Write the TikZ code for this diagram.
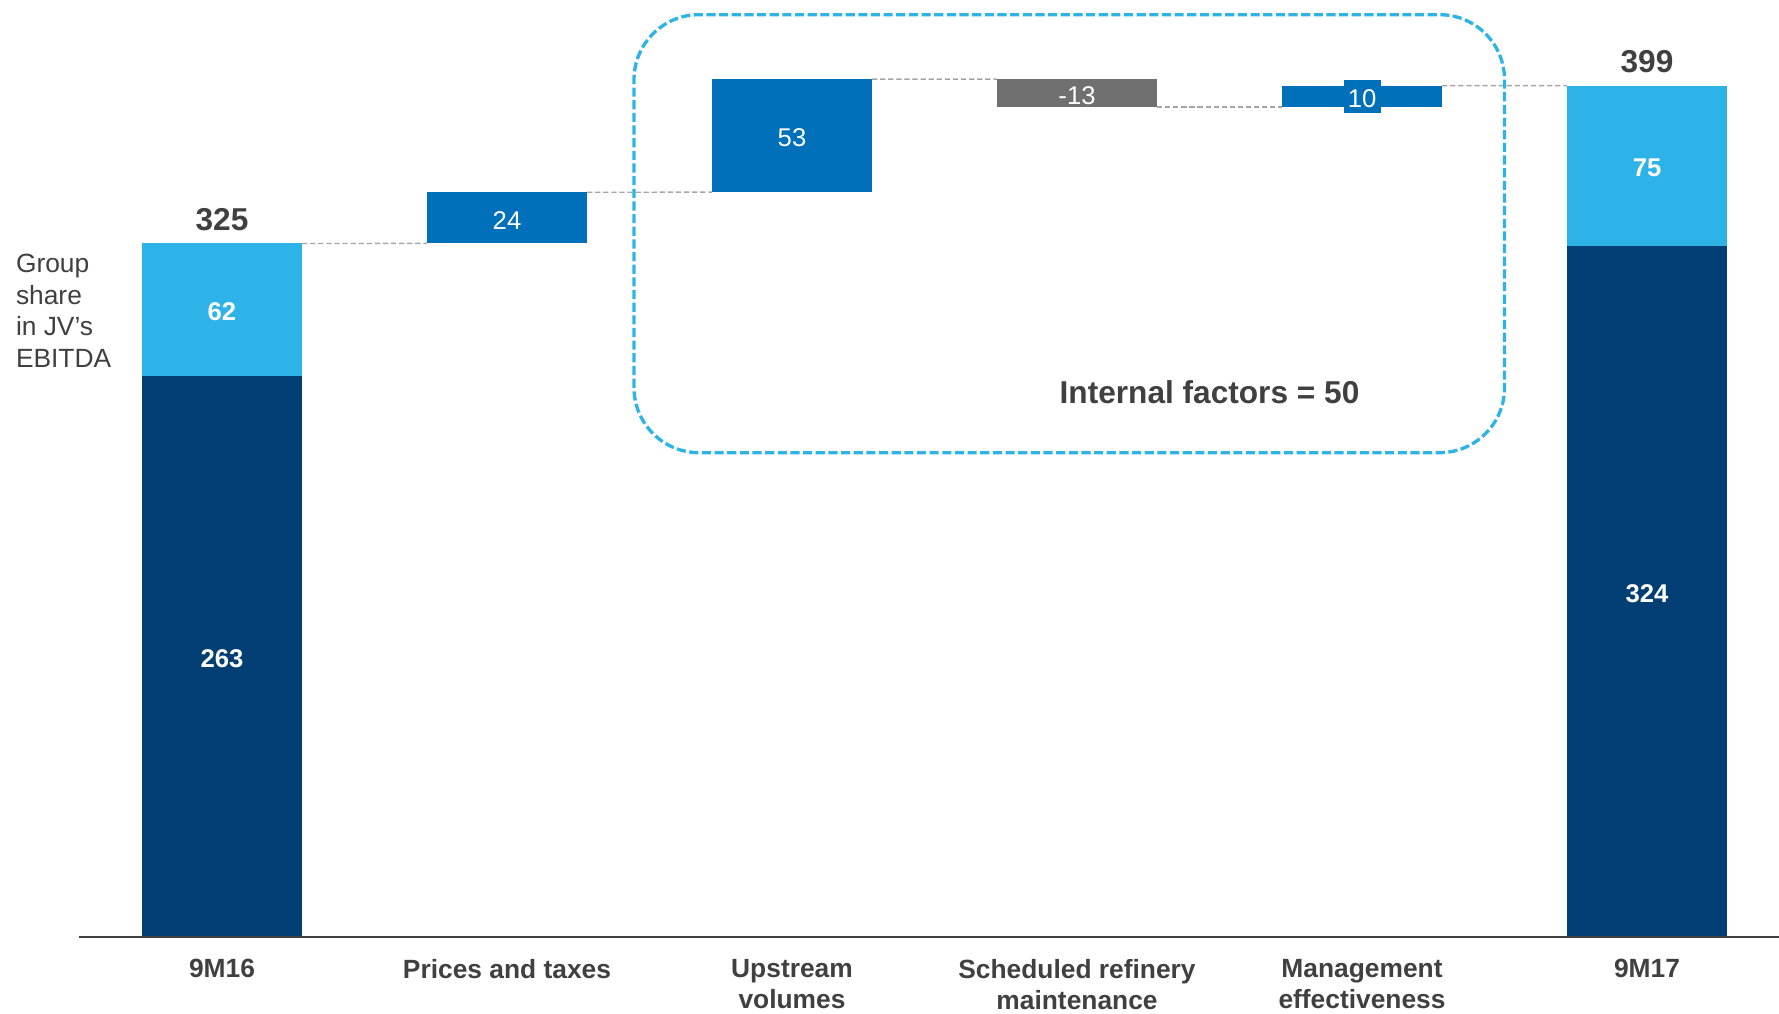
\documentclass[tikz,border=0pt]{standalone}
\usepackage{fontspec}
\setmainfont{Liberation Sans}
\usepackage{tikz}
\usepackage{xcolor}
\usetikzlibrary{positioning}
\definecolor{navy}{HTML}{003E74}
\definecolor{skyblue}{HTML}{2EB3E8}
\definecolor{midblue}{HTML}{0070BA}
\definecolor{bargray}{HTML}{707070}
\definecolor{txtgray}{HTML}{404040}
\definecolor{linkgray}{HTML}{A6A6A6}

\begin{document}
\begin{tikzpicture}[every node/.style={inner sep=0pt,outer sep=0pt},
bar/.style={rectangle,minimum width=1.6cm,anchor=south,text=white,text height=6.5pt,font=\fontsize{7.3}{9}\selectfont},
tot/.style={bar,font=\bfseries\fontsize{7.3}{9}\selectfont},
sum/.style={text=txtgray,font=\bfseries\fontsize{9}{11}\selectfont},
cat/.style={anchor=north,align=center,text=txtgray,font=\bfseries\fontsize{7.5}{9}\selectfont},
link/.style={linkgray,line width=0.4pt,dash pattern=on 1.5pt off 0.8pt}]
\useasboundingbox (0,0) rectangle (17.79,10.14);
% 9M16
\node (a1) at (2.22,0.77) [tot,fill=navy,minimum height=5.612cm] {263};
\node (a2) [tot,fill=skyblue,minimum height=1.323cm,above=0pt of a1] {62};
\node (a3) [sum,above=3.5pt of a2] {325};
% steps
\node (b) at (5.07,7.7055) [bar,fill=midblue,minimum height=0.512cm] {24};
\node (c) at (7.92,8.218) [bar,fill=midblue,minimum height=1.131cm] {53};
\node (d) at (10.77,9.071) [bar,fill=bargray,minimum height=0.277cm] {-13};
\node (e) at (13.62,9.071) [bar,fill=midblue,text height=0pt,minimum height=0.213cm] {};
\node (e1) at (e) [fill=midblue,text=white,text height=6.5pt,minimum width=0.37cm,minimum height=0.33cm,font=\fontsize{7.3}{9}\selectfont] {10};
% 9M17
\node (f1) at (16.47,0.77) [tot,fill=navy,minimum height=6.914cm] {324};
\node (f2) [tot,fill=skyblue,minimum height=1.6cm,above=0pt of f1] {75};
\node (f3) [sum,above=3.5pt of f2] {399};
\draw[link] (a2.north east) -- (b.south west);
\draw[link] (b.north east) -- (c.south west);
\draw[link] (c.north east) -- (d.north west);
\draw[link] (d.south east) -- (e.south west);
\draw[link] (e.north east) -- (f2.north west);
% internal factors
\draw[skyblue,line width=0.95pt,dash pattern=on 2.6pt off 1pt,rounded corners=0.65cm] (6.34,5.613) rectangle (15.045,9.993);
\node (g) at (12.095,6.214) [sum] {Internal factors = 50};
\node (h) at (0.16,7.60) [anchor=north west,align=left,text=txtgray,font=\fontsize{7.5}{9}\selectfont] {Group\\share\\in JV’s\\EBITDA};
\draw[txtgray,line width=0.7pt] (0.79,0.77) -- (17.79,0.77);
\node (l1) at (2.22,0.55) [cat] {9M16};
\node (l2) at (5.07,0.55) [cat] {Prices and taxes};
\node (l3) at (7.92,0.55) [cat] {Upstream\\volumes};
\node (l4) at (10.77,0.55) [cat] {Scheduled refinery\\maintenance};
\node (l5) at (13.62,0.55) [cat] {Management\\effectiveness};
\node (l6) at (16.47,0.55) [cat] {9M17};
\end{tikzpicture}
\end{document}
